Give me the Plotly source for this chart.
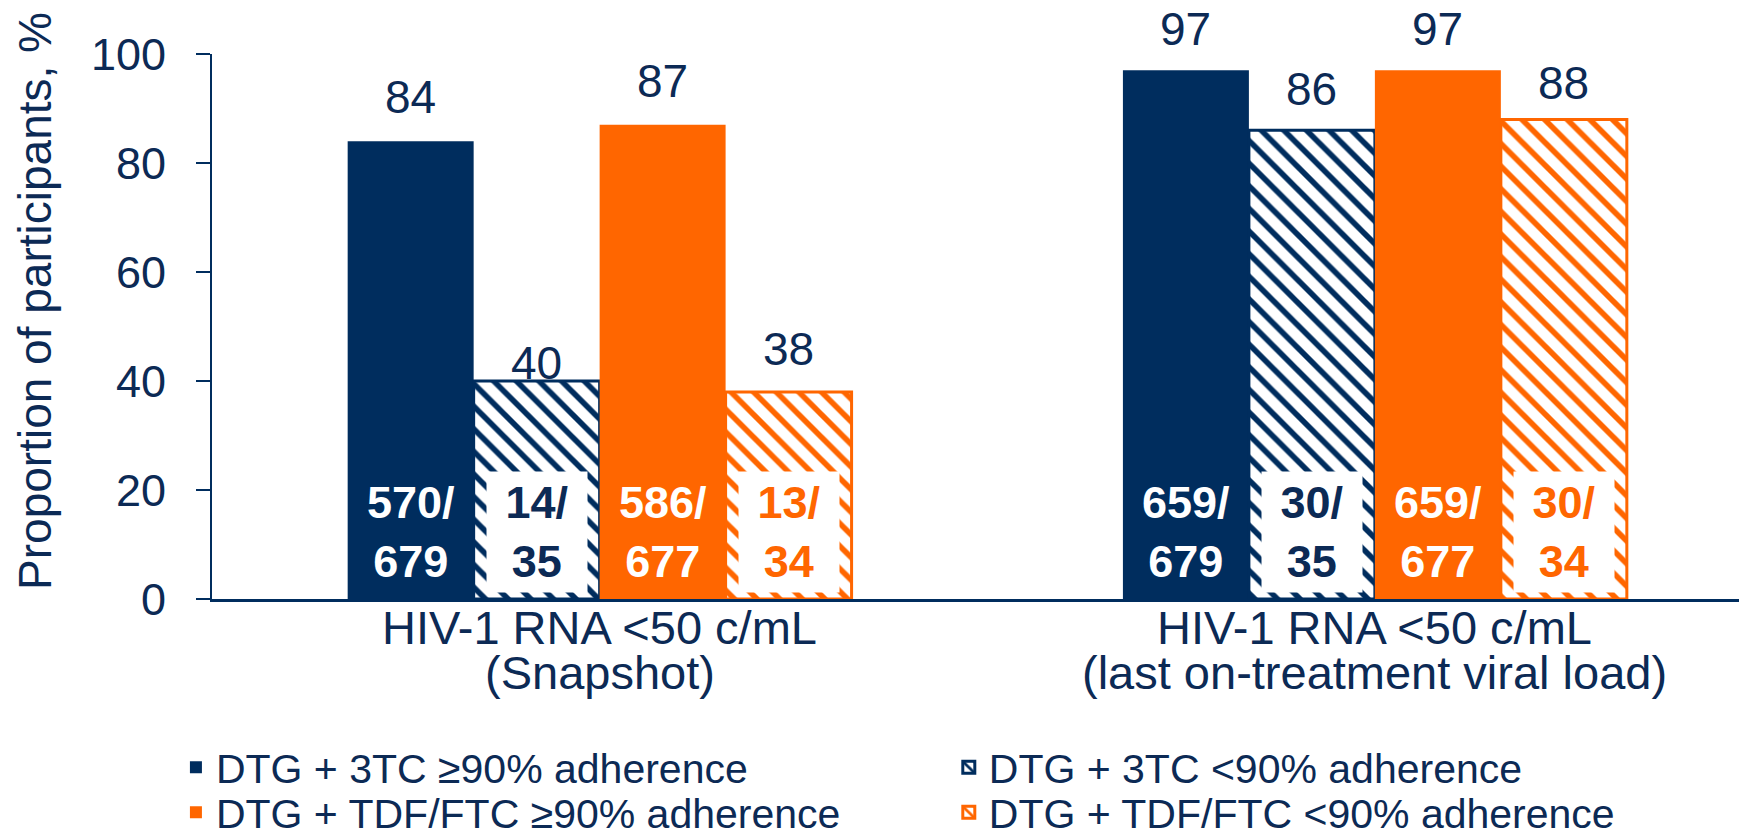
import plotly.graph_objects as go

# ---------------- data ----------------
cat_line1 = ["HIV-1 RNA <50 c/mL", "HIV-1 RNA <50 c/mL"]
cat_line2 = ["(Snapshot)", "(last on-treatment viral load)"]
categories = ["Snapshot", "Last on-treatment VL"]

series_names = [
    "DTG + 3TC \u226590% adherence",
    "DTG + 3TC <90% adherence",
    "DTG + TDF/FTC \u226590% adherence",
    "DTG + TDF/FTC <90% adherence",
]
dtg3tc_hi = [84, 97]
dtg3tc_lo = [40, 86]
tdf_hi = [87, 97]
tdf_lo = [38, 88]
values = [dtg3tc_hi, dtg3tc_lo, tdf_hi, tdf_lo]

n_dtg3tc_hi = ["570/<br>679", "659/<br>679"]
n_dtg3tc_lo = ["14/<br>35", "30/<br>35"]
n_tdf_hi = ["586/<br>677", "659/<br>677"]
n_tdf_lo = ["13/<br>34", "30/<br>34"]
counts = [n_dtg3tc_hi, n_dtg3tc_lo, n_tdf_hi, n_tdf_lo]

y_ticks = [0, 20, 40, 60, 80, 100]

# ---------------- style ----------------
NAVY = "#002D5E"
ORANGE = "#FF6600"
TEXT = "#0C2A55"
FONT = "Liberation Sans, Arial, sans-serif"
colors = [NAVY, NAVY, ORANGE, ORANGE]
hatched = [False, True, False, True]
# vertical lift (px) of the value labels above each bar, per series / category
label_lift = [[44, 41], [18, 41], [44, 41], [43, 36]]
# legend slot (paper x, paper y) of each series: 2 columns x 2 rows
legend_pos = [(-0.0235, -0.248), (0.480, -0.248), (-0.0235, -0.3306), (0.480, -0.3306)]

BARGAP = 0.35
n_series = len(values)
bar_w = (1 - BARGAP) / n_series

# the page body adds an 8px offset; margins compensate for it
PAGE_OFFSET = 8

fig = go.Figure()
for i in range(n_series):
    marker = dict(color=colors[i], line=dict(width=0))
    if hatched[i]:
        marker = dict(
            color="white",
            line=dict(color=colors[i], width=3),
            pattern=dict(shape="\\", fgcolor=colors[i], bgcolor="white",
                         size=16, solidity=0.35, fillmode="replace"),
        )
    fig.add_trace(go.Bar(
        x=categories, y=values[i], name=series_names[i],
        marker=marker, hoverinfo="x+y+name",
        legend="legend" if i == 0 else "legend%d" % (i + 1),
    ))

annotations = []
for i in range(n_series):
    for j in range(len(categories)):
        xpos = j + (i - (n_series - 1) / 2) * bar_w
        # value label above bar
        annotations.append(dict(
            x=xpos, y=values[i][j], xref="x", yref="y",
            text=str(values[i][j]), showarrow=False,
            yanchor="middle", yshift=label_lift[i][j],
            font=dict(family=FONT, size=46, color=TEXT),
        ))
        # n/N label inside bar
        annotations.append(dict(
            x=xpos, y=0, xref="x", yref="y",
            text="<b>%s</b>" % counts[i][j], showarrow=False,
            yanchor="bottom", yshift=6, width=100, height=120,
            valign="middle", borderpad=0,
            bgcolor="white" if hatched[i] else "rgba(0,0,0,0)",
            font=dict(family=FONT, size=45,
                      color=(colors[i] if i == 3 else TEXT) if hatched[i] else "white"),
        ))

for j in range(len(categories)):
    annotations.append(dict(
        x=j, y=0, xref="x", yref="paper", text=cat_line1[j], showarrow=False,
        yanchor="middle", yshift=-28,
        font=dict(family=FONT, size=47, color=TEXT),
    ))
    annotations.append(dict(
        x=j, y=0, xref="x", yref="paper", text=cat_line2[j], showarrow=False,
        yanchor="middle", yshift=-73,
        font=dict(family=FONT, size=47, color=TEXT),
    ))

annotations.append(dict(
    x=-0.1153, y=0.547, xref="paper", yref="paper",
    text="Proportion of participants, %", textangle=-90, showarrow=False,
    xanchor="center", yanchor="middle",
    font=dict(family=FONT, size=46, color=TEXT),
))

legends = {}
for i in range(n_series):
    key = "legend" if i == 0 else "legend%d" % (i + 1)
    legends[key] = dict(
        orientation="h", x=legend_pos[i][0], y=legend_pos[i][1],
        xref="paper", yref="paper", xanchor="left", yanchor="top",
        font=dict(family=FONT, size=41, color=TEXT),
        bgcolor="rgba(0,0,0,0)", itemclick=False, itemdoubleclick=False,
    )

fig.update_layout(
    width=1747, height=836,
    margin=dict(l=212 - PAGE_OFFSET, r=PAGE_OFFSET, t=54 - PAGE_OFFSET,
                b=237 + PAGE_OFFSET, pad=0, autoexpand=False),
    paper_bgcolor="white", plot_bgcolor="white",
    barmode="group", bargap=BARGAP, bargroupgap=0,
    font=dict(family=FONT, color=TEXT),
    annotations=annotations,
    showlegend=True,
    **legends,
)
fig.update_xaxes(
    range=[-0.5, 1.48], showticklabels=False, ticks="",
    showline=True, linecolor=NAVY, linewidth=3, showgrid=False, zeroline=False,
)
fig.update_yaxes(
    range=[0, 100], tickvals=y_ticks, ticks="outside", ticklen=14,
    tickwidth=2, tickcolor=NAVY, showline=True, linecolor=NAVY, linewidth=2,
    showgrid=False, zeroline=False, ticklabelstandoff=21,
    tickfont=dict(family=FONT, size=45, color=TEXT),
)

fig.write_html("out.html")
